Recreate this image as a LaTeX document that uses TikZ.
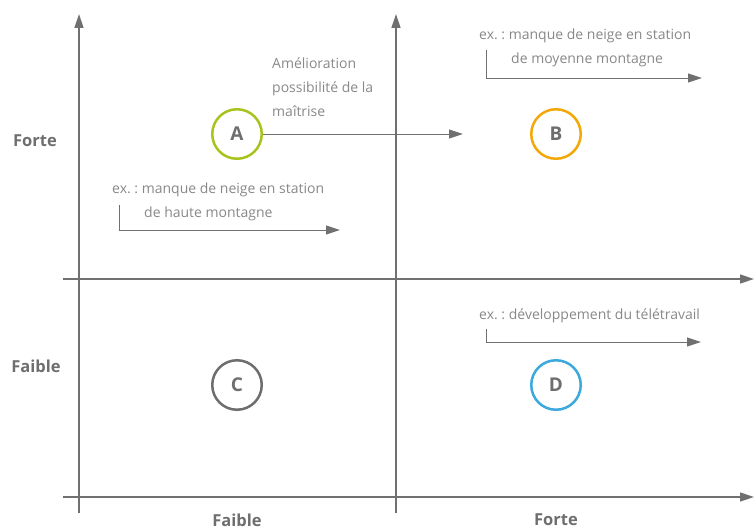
\documentclass[tikz,border=0pt]{standalone}
\usepackage{fontspec}
\setmainfont{Open Sans}
\usetikzlibrary{arrows.meta}
\frenchspacing
\definecolor{axisgray}{HTML}{707070}
\definecolor{textgray}{HTML}{888888}
\definecolor{labgray}{HTML}{6E6E6E}
\definecolor{cA}{HTML}{A8C41C}
\definecolor{cB}{HTML}{F3A80A}
\definecolor{cC}{HTML}{6E6E6E}
\definecolor{cD}{HTML}{3BA9DD}
\tikzset{
  axisline/.style={draw=axisgray, line width=1.4pt},
  axisarrow/.style={axisline, -{Triangle[length=14pt,width=9pt]}},
  thinarrow/.style={draw=axisgray, line width=1pt, -{Triangle[length=14pt,width=9pt]}},
  quad/.style={circle, line width=2.5pt, minimum size=49.5pt, inner sep=0pt, text=labgray, font=\fontsize{19}{22}\selectfont\bfseries},
  small/.style={inner sep=0pt, text=textgray, font=\fontsize{14}{24}\selectfont, anchor=west},
  lab/.style={inner sep=0pt, text=labgray, font=\fontsize{16.5}{20}\selectfont\bfseries},
}
\begin{document}
\begin{tikzpicture}[x=1pt,y=-1pt]
\useasboundingbox (0,0) rectangle (754,527);
% axes
\coordinate (v1b) at (79,513); \coordinate (v1t) at (79,14);
\coordinate (v2b) at (396,513); \coordinate (v2t) at (396,14);
\coordinate (h1l) at (63,279); \coordinate (h1r) at (754,279);
\coordinate (h2l) at (63,497); \coordinate (h2r) at (754,497);
\draw[axisarrow] (v1b) -- (v1t);
\draw[axisarrow] (v2b) -- (v2t);
\draw[axisarrow] (h1l) -- (h1r);
\draw[axisarrow] (h2l) -- (h2r);
% circles
\node[quad, draw=cA] (A) at (237,134) {A};
\node[quad, draw=cB] (B) at (556,134) {B};
\node[quad, draw=cC] (C) at (237,385) {C};
\node[quad, draw=cD] (D) at (556,385) {D};
% A -> arrow
\coordinate (Aend) at (463,134);
\draw[thinarrow] (A.east) -- (Aend);
\node[small, align=left] (amel) at (272,87) {Amélioration\\possibilité de la\\maîtrise};
% example A
\node[small] (exA1) at (112,190) {ex. : manque de neige en station};
\node[small] (exA2) at (144,214) {de haute montagne};
\coordinate (bA1) at (119,205); \coordinate (bA2) at (340,230);
\draw[thinarrow] (bA1) |- (bA2);
% example B
\node[small] (exB1) at (479,36) {ex. : manque de neige en station};
\node[small] (exB2) at (511,60) {de moyenne montagne};
\coordinate (bB1) at (486,50); \coordinate (bB2) at (702,78);
\draw[thinarrow] (bB1) |- (bB2);
% example D
\node[small] (exD1) at (479,316) {ex. : développement du télétravail};
\coordinate (bD1) at (486,329); \coordinate (bD2) at (701,342);
\draw[thinarrow] (bD1) |- (bD2);
% labels
\node[lab] (yF) at (35,141) {Forte};
\node[lab] (yf) at (36,366) {Faible};
\node[lab] (xf) at (237,520) {Faible};
\node[lab] (xF) at (556,520) {Forte};
\end{tikzpicture}
\end{document}
